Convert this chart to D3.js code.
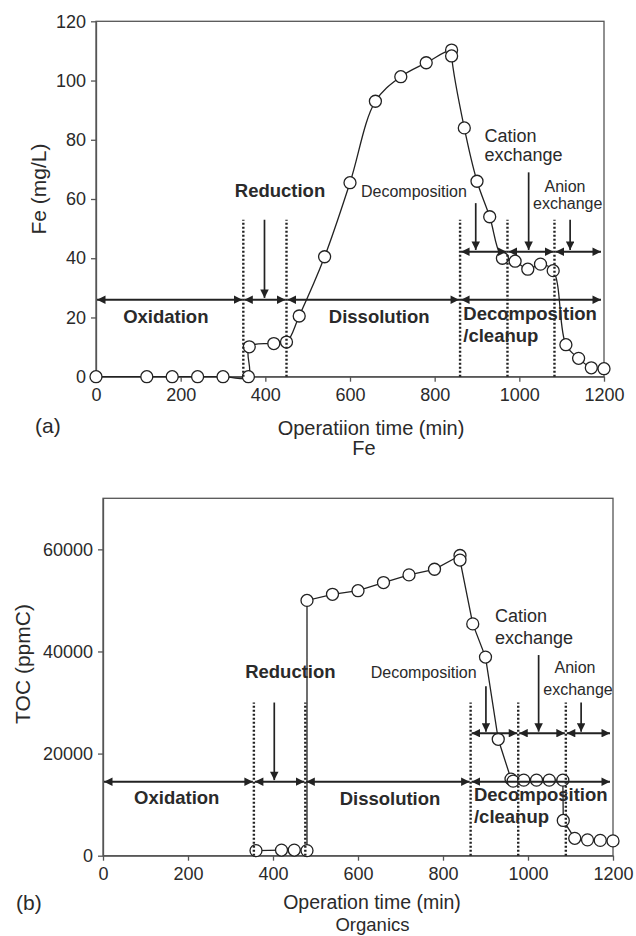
<!DOCTYPE html>
<html>
<head>
<meta charset="utf-8">
<script src="https://cdn.jsdelivr.net/npm/d3@7"></script>
<style>
  body { margin: 0; background: #fff; }
  svg text { font-family: "Liberation Sans", Arial, sans-serif; fill: #2a2a2a; }
</style>
</head>
<body>
<svg id="chart" width="636" height="936"></svg>
<script>
// data
const timeFe = [0, 120, 180, 240, 300, 360, 362, 420, 450, 480, 540, 600, 660, 720, 780, 840, 840, 870, 900, 930, 960, 990, 1020, 1050, 1080, 1110, 1140, 1170, 1200];
const fe     = [0, 0, 0, 0, 0, 0, 10.1, 11.2, 11.7, 20.5, 40.5, 65.5, 93, 101.3, 106, 110.3, 108.3, 84, 66, 54, 40, 39, 36.3, 38, 35.8, 10.8, 6.2, 3, 2.7];

const timeToc = [360, 420, 450, 480, 480, 540, 600, 660, 720, 780, 840, 840, 870, 900, 930, 960, 965, 990, 1020, 1050, 1082, 1083, 1110, 1140, 1170, 1200];
const toc     = [1000, 1100, 1100, 1000, 50000, 51200, 51900, 53500, 55000, 56100, 58800, 57900, 45400, 38900, 22800, 15000, 14600, 14800, 14800, 14800, 14800, 6900, 3400, 3100, 3000, 2900];

const xTicks = [0, 200, 400, 600, 800, 1000, 1200];
const feTicks = [0, 20, 40, 60, 80, 100, 120];
const tocTicks = [0, 20000, 40000, 60000];

// phase boundaries (min)
const feBounds = [348, 450, 860, 972, 1083];
const tocBounds = [355, 476, 865, 977, 1089];

const svg = d3.select('#chart');
const ink = '#222';
const axisGrey = '#555';

svg.append('defs').append('marker')
  .attr('id', 'head').attr('viewBox', '0 0 10 10').attr('refX', 10).attr('refY', 5)
  .attr('markerWidth', 9).attr('markerHeight', 8.5).attr('markerUnits', 'userSpaceOnUse')
  .attr('orient', 'auto-start-reverse')
  .append('path').attr('d', 'M0,0 L10,5 L0,10 Z').attr('fill', ink);

function drawPanel(p) {
  const x = d3.scaleLinear().domain([0, 1200]).range(p.xr);
  const y = d3.scaleLinear().domain([0, p.ymax]).range(p.yr);
  const g = svg.append('g');

  // frame
  g.append('rect').attr('x', p.xr[0]).attr('y', p.yr[1])
    .attr('width', p.xr[1] - p.xr[0]).attr('height', p.yr[0] - p.yr[1])
    .attr('fill', 'none').attr('stroke', axisGrey).attr('stroke-width', 1.3);

  const xa = g.append('g').attr('transform', 'translate(0,' + p.yr[0] + ')')
    .call(d3.axisBottom(x).tickValues(xTicks).tickFormat(d3.format('d')).tickSize(5).tickPadding(7).tickSizeOuter(0));
  const ya = g.append('g').attr('transform', 'translate(' + p.xr[0] + ',0)')
    .call(d3.axisLeft(y).tickValues(p.yTicks).tickFormat(d3.format('d')).tickSize(5).tickPadding(5).tickSizeOuter(0));
  [xa, ya].forEach(a => {
    a.select('.domain').attr('stroke', axisGrey).attr('stroke-width', 1.3);
    a.selectAll('.tick line').attr('stroke', axisGrey).attr('stroke-width', 1.3);
    a.selectAll('.tick text').style('font-size', '18px').attr('fill', '#2a2a2a');
  });

  // data line and markers
  const pts = p.t.map((t, i) => [t, p.v[i]]);
  g.append('path').datum(pts)
    .attr('d', d3.line().x(d => x(d[0])).y(d => y(d[1])).curve(p.curve))
    .attr('fill', 'none').attr('stroke', ink).attr('stroke-width', 1.3);
  g.selectAll(null).data(pts).join('circle')
    .attr('cx', d => x(d[0])).attr('cy', d => y(d[1])).attr('r', 6)
    .attr('fill', '#fff').attr('stroke', ink).attr('stroke-width', 1.3);

  // dotted phase boundaries
  g.selectAll(null).data(p.bounds).join('line')
    .attr('x1', d => x(d)).attr('x2', d => x(d))
    .attr('y1', y(0)).attr('y2', y(p.dotTop))
    .attr('stroke', ink).attr('stroke-width', 2.4).attr('stroke-dasharray', '2,2');

  // double-headed arrows
  const b = p.bounds;
  const low = [[0, b[0]], [b[0], b[1]], [b[1], b[2]], [b[2], 1200]];
  const high = [[b[2], b[3]], [b[3], b[4]], [b[4], 1200]];
  const seg = (rows, lvl) => g.selectAll(null).data(rows).join('line')
    .attr('x1', d => x(d[0]) + 1).attr('x2', d => x(d[1]) - (d[1] === 1200 ? 3 : 1))
    .attr('y1', y(lvl)).attr('y2', y(lvl))
    .attr('stroke', ink).attr('stroke-width', 2)
    .attr('marker-start', 'url(#head)').attr('marker-end', 'url(#head)');
  seg(low, p.lowY);
  seg(high, p.highY);

  // down arrows
  g.selectAll(null).data(p.downs).join('line')
    .attr('x1', d => x(d[0])).attr('x2', d => x(d[0]))
    .attr('y1', d => y(d[1])).attr('y2', d => y(d[2]))
    .attr('stroke', ink).attr('stroke-width', 1.7)
    .attr('marker-end', 'url(#head)');

  // annotation texts: [time, value, text, size, anchor, bold]
  p.labels.forEach(l => {
    g.append('text').attr('x', x(l[0])).attr('y', y(l[1]))
      .attr('text-anchor', l[4])
      .style('font-size', l[3] + 'px').style('font-weight', l[5] ? 'bold' : 'normal')
      .text(l[2]);
  });

  g.append('text').attr('transform', 'translate(' + p.ylab[1] + ',' + p.ylab[2] + ') rotate(-90)')
    .attr('text-anchor', 'middle').style('font-size', '21px').text(p.ylab[0]);
  p.bottom.forEach(l => {
    g.append('text').attr('x', l[1]).attr('y', l[2]).attr('text-anchor', l[3])
      .style('font-size', l[4] + 'px').text(l[0]);
  });
}

drawPanel({
  xr: [96, 604], yr: [376.7, 21.3], ymax: 120, yTicks: feTicks,
  t: timeFe, v: fe, curve: d3.curveCatmullRom.alpha(0.5),
  bounds: feBounds, dotTop: 53, lowY: 26, highY: 42.2,
  downs: [[398, 53, 26.6], [897, 58.6, 42.8], [1022, 69, 42.8], [1120, 53, 42.8]],
  labels: [
    [434.7, 60.6, 'Reduction', 18.5, 'middle', true],
    [164.9, 18.2, 'Oxidation', 18.5, 'middle', true],
    [669, 18.1, 'Dissolution', 18.5, 'middle', true],
    [867.6, 19.1, 'Decomposition', 18.5, 'start', true],
    [867.6, 11.7, '/cleanup', 18.5, 'start', true],
    [626, 60.8, 'Decomposition', 16, 'start', false],
    [917.7, 79.3, 'Cation', 18, 'start', false],
    [917.7, 72.8, 'exchange', 18, 'start', false],
    [1107.9, 62.5, 'Anion', 16, 'middle', false],
    [1032.3, 56.5, 'exchange', 16, 'start', false]
  ],
  ylab: ['Fe (mg/L)', 46, 189],
  bottom: [['Operatiion time (min)', 371, 435, 'middle', 20], ['Fe', 364, 455, 'middle', 20], ['(a)', 35, 433, 'start', 21]]
});

drawPanel({
  xr: [103, 613], yr: [855.7, 498.3], ymax: 70000, yTicks: tocTicks,
  t: timeToc, v: toc, curve: d3.curveLinear,
  bounds: tocBounds, dotTop: 30000, lowY: 14500, highY: 24000,
  downs: [[403, 30000, 14800], [901, 33200, 24300], [1025, 39300, 24300], [1125, 30000, 24300]],
  labels: [
    [440.9, 34740, 'Reduction', 18.5, 'middle', true],
    [173.6, 10065, 'Oxidation', 18.5, 'middle', true],
    [675.3, 9930, 'Dissolution', 18.5, 'middle', true],
    [872.9, 10770, 'Decomposition', 18.5, 'start', true],
    [872.9, 6460, '/cleanup', 18.5, 'start', true],
    [629.9, 34740, 'Decomposition', 16, 'start', false],
    [922.4, 45700, 'Cation', 18, 'start', false],
    [922.4, 41400, 'exchange', 18, 'start', false],
    [1110.6, 35700, 'Anion', 16, 'middle', false],
    [1036, 31470, 'exchange', 16, 'start', false]
  ],
  ylab: ['TOC (ppmC)', 30, 664],
  bottom: [['Operation time (min)', 372, 909, 'middle', 19.5], ['Organics', 372.5, 931, 'middle', 18.5], ['(b)', 16, 910, 'start', 21]]
});
</script>
</body>
</html>
